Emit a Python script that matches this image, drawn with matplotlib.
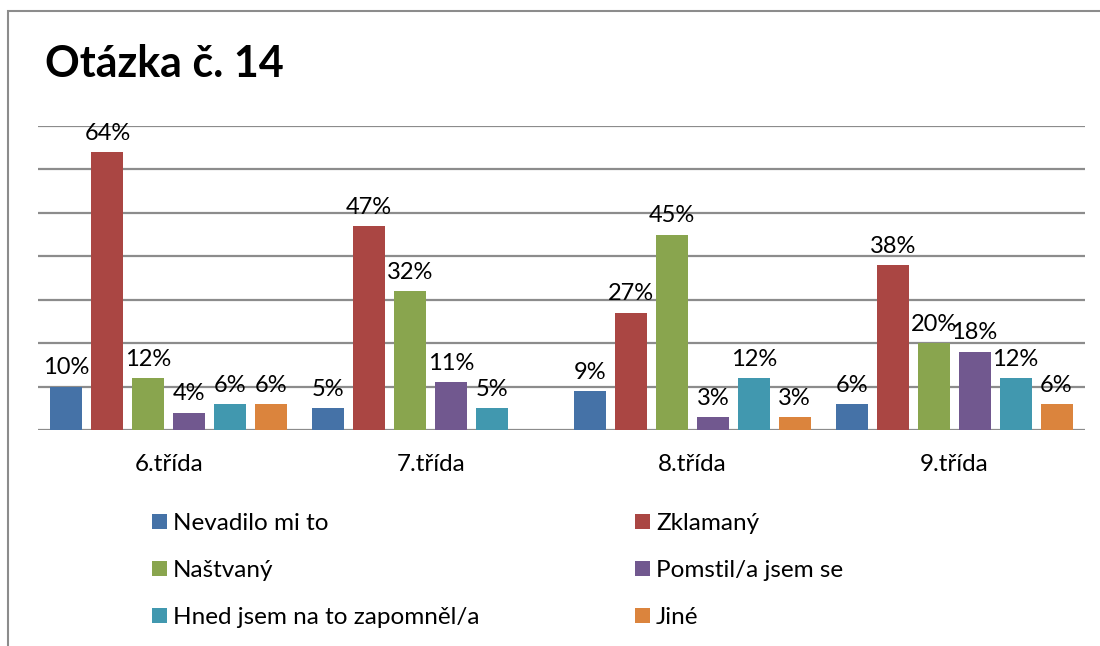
"""
Otazka c. 14 - grouped bar chart, Excel 2007 look
"""

import numpy as np
import matplotlib.pyplot as plt
from matplotlib.patches import Rectangle, Patch

plt.rcParams['font.family'] = ['Lato', 'DejaVu Sans']

# data
groups = ['6.třída', '7.třída', '8.třída', '9.třída']
series = ['Nevadilo mi to', 'Zklamaný', 'Naštvaný', 'Pomstil/a jsem se',
    'Hned jsem na to zapomněl/a', 'Jiné']
nevadilo = [10, 5, 9, 6]
zklamany = [64, 47, 27, 38]
nastvany = [12, 32, 45, 20]
pomstil = [4, 11, 3, 18]
zapomnel = [6, 5, 12, 12]
jine = [6, np.nan, 3, 6]
values = [nevadilo, zklamany, nastvany, pomstil, zapomnel, jine]

colors = ['#4572A7', '#AA4643', '#89A54E', '#71588F', '#4198AF', '#DB843D']

fs = 17
grid_c = '#8C8C8C'

fig = plt.figure(figsize=(11, 6.46), dpi=100)
ax = fig.add_axes([38/1100, 1-430/646, (1085-38)/1100, (430-126)/646])

x = np.arange(len(groups))
step = 0.1565
width = 0.122
for i, (name, vals) in enumerate(zip(series, values)):
    pos = x + (i - 2.5) * step
    ax.bar(pos, vals, width, color=colors[i], label=name, zorder=3)
    for xp, v in zip(pos, vals):
        if np.isnan(v):
            continue
        ax.annotate(f'{v:.0f}%', (xp, v), xytext=(0, 6),
            textcoords='offset points', ha='center', va='bottom',
            fontsize=fs, zorder=4)

ax.set_xlim(-0.5, 3.5)
ax.set_ylim(0, 70)
ax.set_yticks(np.arange(0, 71, 10))
ax.yaxis.grid(True, color=grid_c, linewidth=1.6, zorder=0)
ax.tick_params(axis='y', left=False, labelleft=False)
ax.tick_params(axis='x', bottom=False, labelsize=17.5, pad=14)
ax.set_xticks(x)
ax.set_xticklabels(groups)
for s in ['left', 'right', 'top', 'bottom']:
    ax.spines[s].set_visible(False)

# title
fig.text(45/1100, 1-77/646, 'Otázka č. 14', fontsize=31, weight='bold',
    ha='left', va='baseline')

# legend: two separate columns
handles = [Patch(facecolor=c, label=n) for c, n in zip(colors, series)]
leg_kw = dict(loc='upper left', frameon=False, fontsize=17.5,
    handlelength=0.62, handleheight=0.62, handletextpad=0.25,
    labelspacing=1.07, borderaxespad=0, borderpad=0)
for col, x0 in [(0, 152), (1, 635)]:
    idx = [col, col + 2, col + 4]
    fig.legend([handles[k] for k in idx], [series[k] for k in idx],
        bbox_to_anchor=(x0/1100, 1-513/646), **leg_kw)

# chart frame (only left and top visible in crop)
fig.add_artist(Rectangle((8/1100, -0.2), 1.2, 1.2 - 11/646,
    transform=fig.transFigure, fill=False, edgecolor='#8C8C8C', linewidth=1.5))

fig.savefig('out.png', dpi=100)
